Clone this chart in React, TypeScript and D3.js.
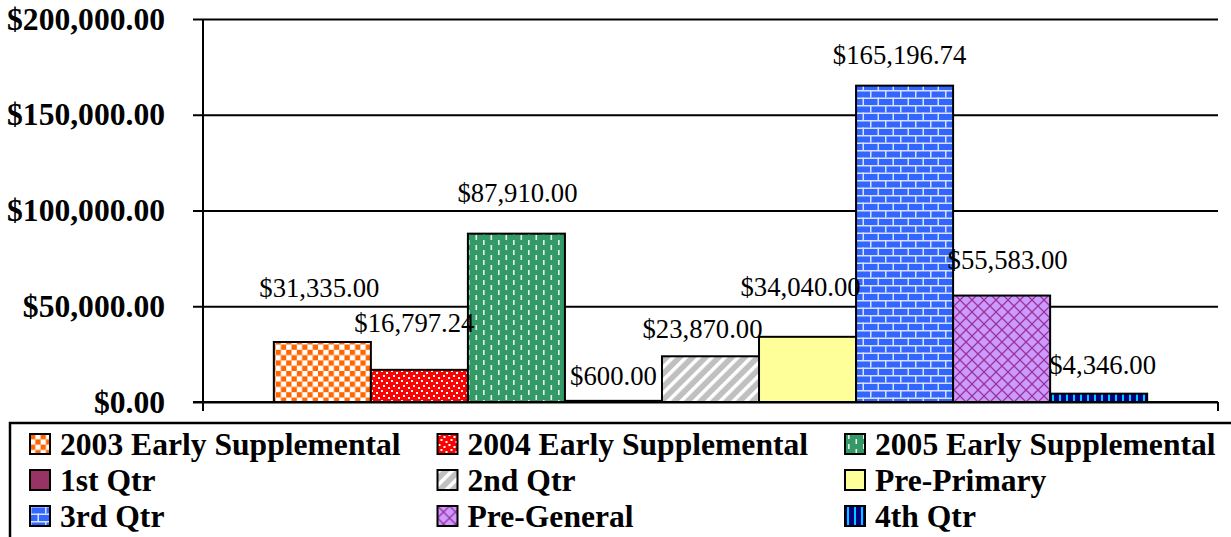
import * as d3 from "d3";
import React, { useEffect, useRef } from "react";

const series = [
  "2003 Early Supplemental",
  "2004 Early Supplemental",
  "2005 Early Supplemental",
  "1st Qtr",
  "2nd Qtr",
  "Pre-Primary",
  "3rd Qtr",
  "Pre-General",
  "4th Qtr",
];
const amounts = [31335, 16797.24, 87910, 600, 23870, 34040, 165196.74, 55583, 4346];
const yTicks = [0, 50000, 100000, 150000, 200000];
const fills = ["p2003", "p2004", "p2005", "#993366", "p2nd", "#FFFF99", "p3rd", "pGen", "p4th"];

// manual nudges of the value labels (px), like the hand-placed ones in the original
const labelLift = [54, 47, 41, 25, 27, 50, 31, 36, 29];
const labelShift = [-3, -5, 1, 0, -8, -7, -5, 6, 4];

const serif = "'Liberation Serif', 'Times New Roman', serif";
const money = (v: number) => "$" + d3.format(",.2f")(v);

const App = () => {
  const svgRef = useRef<SVGSVGElement>(null);

  const renderSVG = () => {
    const dims = { width: 1231, height: 537, left: 203, right: 1218, top: 19, bottom: 402 };

    svgRef.current!.innerHTML = "";
    const svg = d3
      .select(svgRef.current)
      .attr("width", dims.width)
      .attr("height", dims.height)
      .attr("viewBox", [0, 0, dims.width, dims.height].join(" "));

    svg.append("rect").attr("width", dims.width).attr("height", dims.height).attr("fill", "#fff");

    // patterns
    const defs = svg.append("defs");
    const pat = (id: string, w: number, h: number, bg: string) => {
      const p = defs
        .append("pattern")
        .attr("id", id)
        .attr("patternUnits", "userSpaceOnUse")
        .attr("width", w)
        .attr("height", h);
      p.append("rect").attr("width", w).attr("height", h).attr("fill", bg);
      return p;
    };

    const c = 5.3;
    const checker = pat("p2003", 2 * c, 2 * c, "#fff");
    checker.append("rect").attr("width", c).attr("height", c).attr("fill", "#FF6600");
    checker.append("rect").attr("x", c).attr("y", c).attr("width", c).attr("height", c).attr("fill", "#FF6600");

    const confetti = pat("p2004", 10, 10, "#FF0000");
    [[1, 0], [6, 2], [3, 5], [8, 7]].forEach(([x, y]) =>
      confetti.append("rect").attr("x", x).attr("y", y).attr("width", 2).attr("height", 2).attr("fill", "#fff")
    );

    const dashes = pat("p2005", 15, 10, "#339966");
    dashes.append("rect").attr("x", 3).attr("y", 0).attr("width", 1.6).attr("height", 5).attr("fill", "#e8f5ee");
    dashes.append("rect").attr("x", 10.5).attr("y", 5).attr("width", 1.6).attr("height", 5).attr("fill", "#e8f5ee");

    const stripes = pat("p2nd", 9.2, 9.2, "#C0C0C0").attr("patternTransform", "rotate(45)");
    stripes.append("rect").attr("width", 3.5).attr("height", 9.2).attr("fill", "#fff");

    const bricks = pat("p3rd", 15, 15, "#3366FF");
    const bl = "#d8e2ff";
    bricks.append("rect").attr("y", 0).attr("width", 15).attr("height", 1.5).attr("fill", bl);
    bricks.append("rect").attr("y", 7.5).attr("width", 15).attr("height", 1.5).attr("fill", bl);
    bricks.append("rect").attr("x", 0).attr("y", 0).attr("width", 1.5).attr("height", 7.5).attr("fill", bl);
    bricks.append("rect").attr("x", 7.5).attr("y", 7.5).attr("width", 1.5).attr("height", 7.5).attr("fill", bl);

    const hatch = pat("pGen", 12, 12, "#CC99FF");
    hatch.append("path").attr("d", "M0,0L12,12M12,0L0,12").attr("stroke", "#993399").attr("stroke-width", 1.3);

    const vlines = pat("p4th", 7, 7, "#000080");
    vlines.append("rect").attr("x", 2).attr("width", 2).attr("height", 7).attr("fill", "#00CCFF");

    const fillOf = (i: number) => (fills[i].startsWith("#") ? fills[i] : `url(#${fills[i]})`);

    // scales
    const x = d3.scaleBand<string>().domain(series).range([dims.left, dims.right]).paddingInner(0).paddingOuter(0.73);
    const y = d3.scaleLinear().domain([0, 200000]).range([dims.bottom, dims.top]);

    // gridlines + left ticks
    const yAxis = d3
      .axisLeft(y)
      .tickValues(yTicks)
      .tickSize(10)
      .tickFormat((d) => money(d as number));

    svg
      .append("g")
      .attr("transform", `translate(${dims.left},0)`)
      .call(yAxis)
      .call((g) => {
        g.select(".domain").remove();
        g.selectAll(".tick line").attr("stroke", "#000").attr("stroke-width", 2);
        g.selectAll(".tick")
          .append("line")
          .attr("x1", 0)
          .attr("x2", dims.right - dims.left)
          .attr("stroke", "#000")
          .attr("stroke-width", 2);
        g.selectAll(".tick text")
          .attr("x", -38)
          .attr("dy", null)
          .attr("y", 10)
          .attr("fill", "#000")
          .attr("font-family", serif)
          .attr("font-size", 31.6)
          .attr("font-weight", "bold");
      });

    svg
      .append("line")
      .attr("x1", dims.left)
      .attr("x2", dims.left)
      .attr("y1", dims.top)
      .attr("y2", dims.bottom)
      .attr("stroke", "#000")
      .attr("stroke-width", 2);

    // bars
    svg
      .append("g")
      .selectAll("rect")
      .data(amounts)
      .join("rect")
      .attr("x", (d, i) => x(series[i])!)
      .attr("y", (d) => y(d))
      .attr("width", x.bandwidth())
      .attr("height", (d) => y(0) - y(d))
      .attr("fill", (d, i) => fillOf(i))
      .attr("stroke", "#000")
      .attr("stroke-width", 2);

    // bottom axis with category ticks
    svg
      .append("g")
      .call((g) => {
        g.append("line")
          .attr("x1", dims.left - 10)
          .attr("x2", dims.right)
          .attr("y1", dims.bottom)
          .attr("y2", dims.bottom)
          .attr("stroke", "#000")
          .attr("stroke-width", 2);
        [dims.left, dims.right].forEach((tx) =>
          g.append("line")
            .attr("x1", tx)
            .attr("x2", tx)
            .attr("y1", dims.bottom)
            .attr("y2", dims.bottom + 9)
            .attr("stroke", "#000")
            .attr("stroke-width", 2)
        );
      });

    // value labels
    svg
      .append("g")
      .selectAll("text")
      .data(amounts)
      .join("text")
      .attr("x", (d, i) => x(series[i])! + x.bandwidth() / 2 + labelShift[i])
      .attr("y", (d, i) => y(d) - labelLift[i] + 9)
      .attr("text-anchor", "middle")
      .attr("font-family", serif)
      .attr("font-size", 26.7)
      .text((d) => money(d));

    // legend
    const legend = svg.append("g");
    legend
      .append("rect")
      .attr("x", 10)
      .attr("y", 423)
      .attr("width", 1300)
      .attr("height", 200)
      .attr("fill", "#fff")
      .attr("stroke", "#000")
      .attr("stroke-width", 2.5);

    const item = legend
      .selectAll("g.item")
      .data(series)
      .join("g")
      .attr("class", "item")
      .attr("transform", (d, i) => `translate(${30 + (i % 3) * 407.5},${434 + Math.floor(i / 3) * 36})`);

    item
      .append("rect")
      .attr("width", 20)
      .attr("height", 20)
      .attr("fill", (d, i) => fillOf(i))
      .attr("stroke", "#000")
      .attr("stroke-width", 2);

    item
      .append("text")
      .attr("x", 30)
      .attr("y", 21)
      .attr("font-family", serif)
      .attr("font-size", 31.6)
      .attr("font-weight", "bold")
      .text((d) => d);
  };

  useEffect(() => {
    renderSVG();
  });

  return <svg ref={svgRef} style={{ position: "fixed", left: 0, top: 0, display: "block" }} />;
};

export default App;
